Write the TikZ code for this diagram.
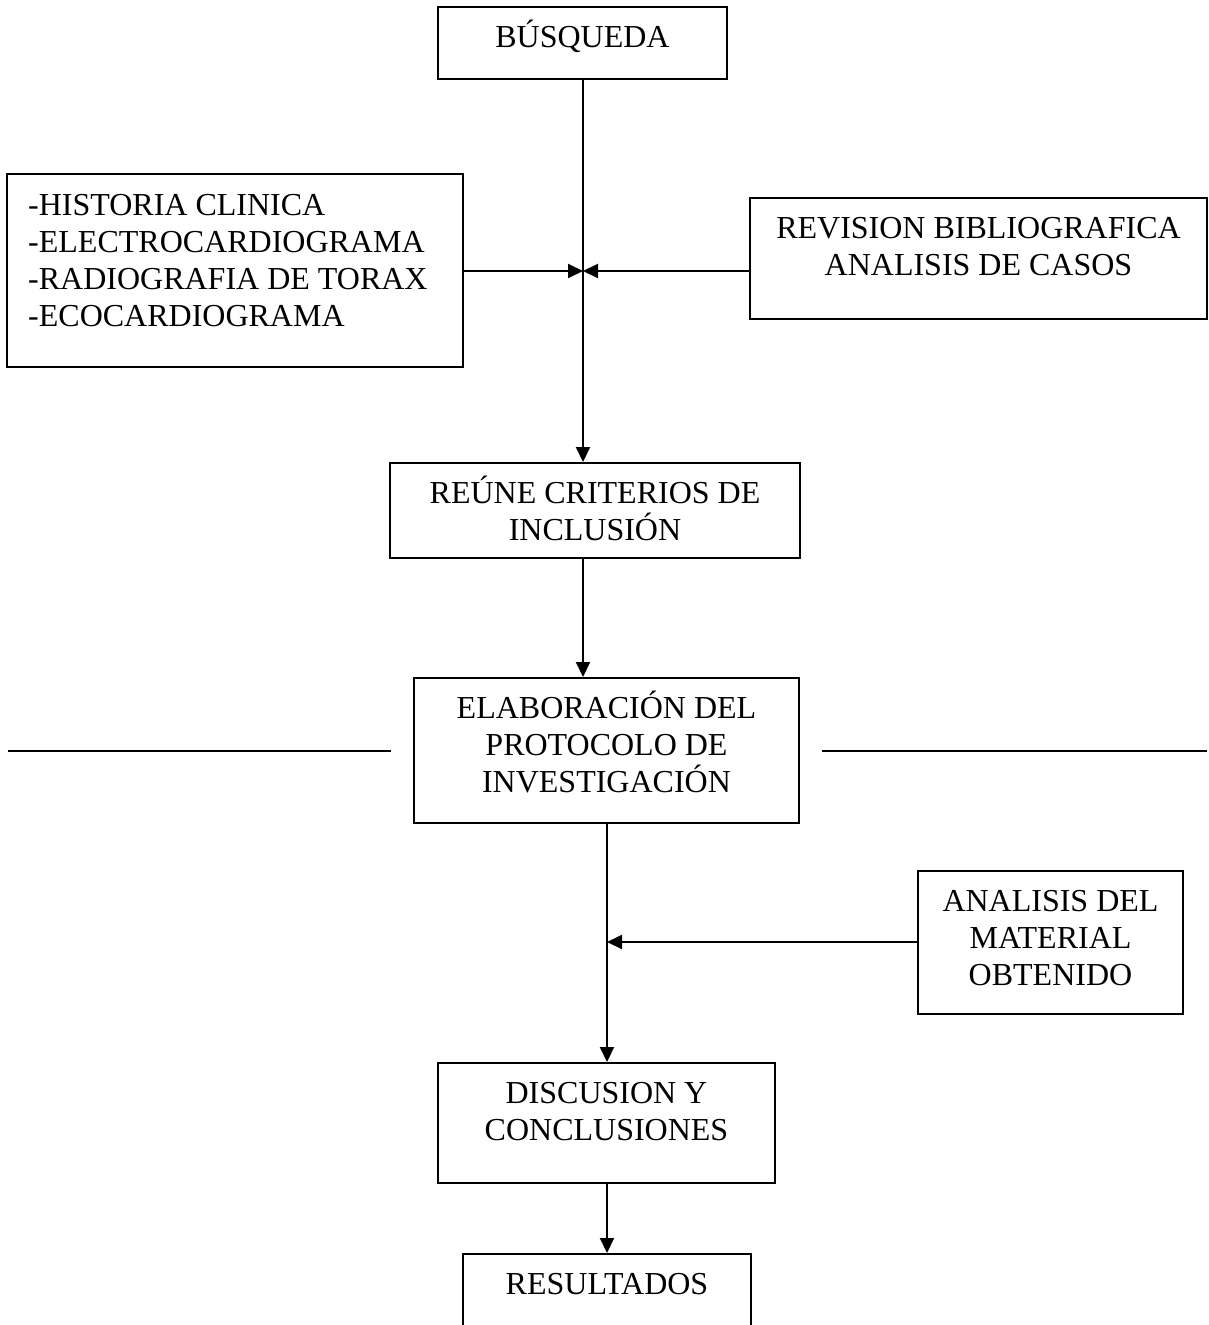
\documentclass[tikz,border=0pt]{standalone}
\usepackage{fontspec}
\setmainfont{Liberation Serif}
\usetikzlibrary{arrows.meta}
\newcommand\mytopstrut{\rule{0pt}{30pt}}
\tikzset{
  boxnode/.style={draw, line width=2pt, rectangle, inner sep=0pt},
  txtnode/.style={inner sep=0pt, anchor=north, align=center, font=\fontsize{32pt}{37pt}\selectfont},
  conn/.style={line width=2pt},
  arr/.style={line width=2pt, -{Triangle[length=15pt,width=14pt]}}
}
\begin{document}
\begin{tikzpicture}[x=1pt,y=-1pt]
\useasboundingbox (0,0) rectangle (1209,1325);
\clip (0,0) rectangle (1209,1325);
\fill[white] (0,0) rectangle (1209,1325);

% boxes
\node[boxnode, minimum width=289pt, minimum height=72pt] (busq) at (582.5,43) {};
\node[boxnode, minimum width=456pt, minimum height=193pt] (lbox) at (235,270.5) {};
\node[boxnode, minimum width=457pt, minimum height=121pt] (rbox) at (978.5,258.5) {};
\node[boxnode, minimum width=410pt, minimum height=95pt] (reune) at (595,510.5) {};
\node[boxnode, minimum width=385pt, minimum height=145pt] (elab) at (606.5,750.5) {};
\node[boxnode, minimum width=265pt, minimum height=143pt] (anal) at (1050.5,942.5) {};
\node[boxnode, minimum width=337pt, minimum height=120pt] (disc) at (606.5,1123) {};
\node[boxnode, minimum width=288pt, minimum height=110pt] (res) at (607,1309) {};

% texts
\node[txtnode] (tbusq) at ([yshift=-11pt]busq.north) {\mytopstrut B\'USQUEDA};
\node[txtnode, anchor=north west, align=left] (tlbox) at (28,185) {\mytopstrut -HISTORIA CLINICA\\-ELECTROCARDIOGRAMA\\-RADIOGRAFIA DE TORAX\\-ECOCARDIOGRAMA};
\node[txtnode] (trbox) at ([yshift=-11pt]rbox.north) {\mytopstrut REVISION BIBLIOGRAFICA\\ANALISIS DE CASOS};
\node[txtnode] (treune) at ([yshift=-11pt]reune.north) {\mytopstrut RE\'UNE CRITERIOS DE\\INCLUSI\'ON};
\node[txtnode] (telab) at ([yshift=-11pt]elab.north) {\mytopstrut ELABORACI\'ON DEL\\PROTOCOLO DE\\INVESTIGACI\'ON};
\node[txtnode] (tanal) at ([yshift=-11pt]anal.north) {\mytopstrut ANALISIS DEL\\MATERIAL\\OBTENIDO};
\node[txtnode] (tdisc) at ([yshift=-11pt]disc.north) {\mytopstrut DISCUSION Y\\CONCLUSIONES};
\node[txtnode] (tres) at ([yshift=-11pt]res.north) {\mytopstrut RESULTADOS};

% junctions
\coordinate (J) at (583,271);
\coordinate (K) at (607,942);
\coordinate (hl1) at (8,751);
\coordinate (hl2) at (391,751);
\coordinate (hr1) at (822,751);
\coordinate (hr2) at (1207,751);

% connectors
\draw[arr] (busq.south -| J) -- (J |- reune.north);
\draw[arr] (lbox.east |- J) -- (J);
\draw[arr] (rbox.west |- J) -- (J);
\draw[arr] (J |- reune.south) -- (J |- elab.north);
\draw[conn] (hl1) -- (hl2);
\draw[conn] (hr1) -- (hr2);
\draw[arr] (K |- elab.south) -- (K |- disc.north);
\draw[arr] (anal.west |- K) -- (K);
\draw[arr] (K |- disc.south) -- (K |- res.north);
\end{tikzpicture}
\end{document}
